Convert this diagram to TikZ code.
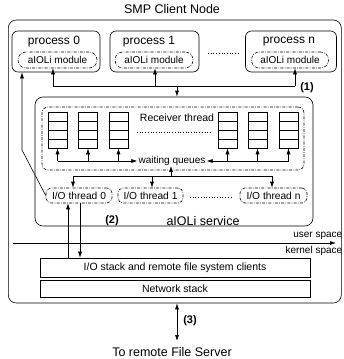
\documentclass[tikz,border=0pt]{standalone}
\usepackage{fontspec}
\setmainfont{Liberation Sans}
\usetikzlibrary{arrows.meta}
\begin{document}
\begin{tikzpicture}[x=1pt,y=-1pt, line width=0.6pt,
  ddot/.style={dash pattern=on 3pt off 1.3pt on 0.7pt off 1.3pt},
  box/.style={draw, rounded corners=7pt, inner sep=0pt},
  pill/.style={draw, ddot, rounded corners=7.8pt, inner sep=0pt, minimum height=16, font=\fontsize{10}{12}\selectfont},
  iot/.style={draw, ddot, rounded corners=5pt, minimum height=15, inner sep=0pt, font=\fontsize{10.2}{12}\selectfont},
  plain/.style={draw, inner sep=0pt, font=\fontsize{10.5}{12}\selectfont},
  qbox/.style={draw, inner sep=0pt, minimum width=19, minimum height=36},
  arr/.style={-{Latex[length=6pt,width=4pt]}},
  darr/.style={{Latex[length=6pt,width=4pt]}-{Latex[length=6pt,width=4pt]}},
  lbl/.style={font=\bfseries\fontsize{11}{13}\selectfont, inner sep=0pt},
  txt/.style={inner sep=0pt},
  dots/.style={dotted, line width=0.7pt}
]
\useasboundingbox (0,0) rectangle (343,359);

% title
\node[txt, font=\fontsize{12.5}{14}\selectfont] (title) at (172,9) {SMP Client Node};

% outer box
\node[box, rounded corners=8pt, minimum width=333, minimum height=283] (outer) at (174.8,161.5) {};

% processes
\node[box, rounded corners=6pt, minimum width=88, minimum height=41] (p0) at (56,51.5) {};
\node[box, rounded corners=6pt, minimum width=89, minimum height=41] (p1) at (154.5,51.5) {};
\node[box, rounded corners=6pt, minimum width=91, minimum height=41] (pn) at (291,51.5) {};
\node[txt, font=\fontsize{12}{14}\selectfont] (t0) at (54,42) {process 0};
\node[txt, font=\fontsize{12}{14}\selectfont] (t1) at (149,42) {process 1};
\node[txt, font=\fontsize{12}{14}\selectfont] (tn) at (289,42) {process n};
\node[pill, minimum width=79] (m0) at (57.5,60) {aIOLi module};
\node[pill, minimum width=78] (m1) at (154,60) {aIOLi module};
\node[pill, minimum width=77] (mn) at (290,60) {aIOLi module};
\coordinate (d1) at (208,53);
\coordinate (d2) at (238,53);
\draw[dots] (d1) -- (d2);

% process bus
\coordinate (a0) at (53,86);
\coordinate (a1) at (155,86);
\coordinate (an) at (295,86);
\coordinate (pbus) at (177,86);
\draw (a0) -- (an);
\draw[arr] (a0) -- (a0 |- m0.south);
\draw[arr] (a1) -- (a1 |- m1.south);
\draw[arr] (an) -- (an |- mn.south);
\node[lbl] (l1) at (307,88) {(1)};

% service
\node[box, rounded corners=8pt, minimum width=278, minimum height=129] (svc) at (174,161.5) {};
\draw[arr] (pbus) -- (pbus |- svc.north);
\node[box, ddot, rounded corners=6pt, minimum width=262, minimum height=63] (recv) at (173,138.5) {};
\node[txt, font=\fontsize{10.5}{12}\selectfont] (rt) at (177,118) {Receiver thread};
\coordinate (d3) at (137,132);
\coordinate (d4) at (211,132);
\draw[dots] (d3) -- (d4);

% queues
\foreach \i/\x in {1/57.5,2/88,3/118.5,4/227.5,5/257.5,6/288.5}{
  \node[qbox] (q\i) at (\x,130) {};
  \draw (q\i.west |- 0,121) -- (q\i.east |- 0,121);
  \draw (q\i.west |- 0,130) -- (q\i.east |- 0,130);
  \draw (q\i.west |- 0,139) -- (q\i.east |- 0,139);
}
\node[txt, font=\fontsize{10}{12}\selectfont, inner xsep=1pt] (wq) at (172,161) {waiting queues};
\foreach \i in {1,...,6}{
  \draw[arr] (q\i.south |- wq) -- (q\i.south);
}
\draw[arr] (q1.south |- wq) -- (wq.west);
\draw[arr] (q6.south |- wq) -- (wq.east);

% I/O threads
\node[iot, minimum width=66] (io0) at (79,195.5) {I/O thread 0};
\node[iot, minimum width=65] (io1) at (150.5,195.5) {I/O thread 1};
\node[iot, minimum width=67] (ion) at (273.5,195.5) {I/O thread n};
\coordinate (d5) at (190,197);
\coordinate (d6) at (233,197);
\draw[dots] (d5) -- (d6);

\coordinate (bus) at (171,176);
\coordinate (b0) at (73,176);
\coordinate (b1) at (152,176);
\coordinate (bn) at (272,176);
\draw (b0) -- (bn);
\draw[arr] (bus) -- (bus |- wq.south);
\draw[arr] (b0) -- (b0 |- io0.north);
\draw[arr] (b1) -- (b1 |- io1.north);
\draw[arr] (bn) -- (bn |- ion.north);

\node[lbl] (l2) at (112,221) {(2)};
\node[txt, font=\fontsize{12.5}{14}\selectfont] (svct) at (203,221) {aIOLi service};

% return path to process 0
\coordinate (bend) at (22,150);
\draw[arr] (io0.west) -- (bend) -- (bend |- p0.south);

% user / kernel
\coordinate (uk1) at (13,243);
\coordinate (uk2) at (336,243);
\draw[arr] (uk1) -- (uk2);
\node[txt, anchor=east, font=\fontsize{10}{12}\selectfont] (us) at (342.5,236) {user space};
\node[txt, anchor=east, font=\fontsize{10}{12}\selectfont] (ks) at (342.5,251) {kernel space};

% stacks
\node[plain, minimum width=270, minimum height=19] (stk) at (175,267.5) {I/O stack and remote file system clients};
\node[plain, minimum width=270, minimum height=17] (net) at (175,288.5) {Network stack};

\draw[arr] ([xshift=-11pt]io0.south |- stk.north) -- ([xshift=-11pt]io0.south);
\draw[arr] ([xshift=1pt]io0.south) -- ([xshift=1pt]io0.south |- stk.north);

% to server
\coordinate (srv) at (177,341);
\draw[darr] (srv |- outer.south) -- (srv);
\node[lbl] (l3) at (190,321) {(3)};
\node[txt, font=\fontsize{12.5}{14}\selectfont] (rfs) at (172,352) {To remote File Server};
\end{tikzpicture}
\end{document}
